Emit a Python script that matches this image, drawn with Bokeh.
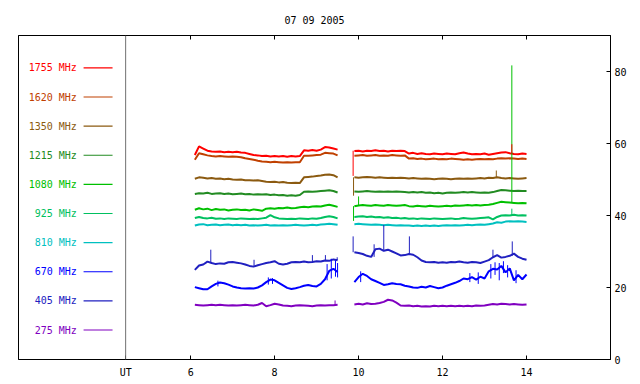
from bokeh.plotting import figure
from bokeh.models import Range1d, LinearAxis, FixedTicker, Span, ColumnDataSource
from bokeh.core.properties import value
from bokeh.embed import file_html
from bokeh.resources import INLINE

title_text = "07 09 2005"
freq_labels = ["1755 MHz", "1620 MHz", "1350 MHz", "1215 MHz", "1080 MHz",
               "925 MHz", "810 MHz", "670 MHz", "405 MHz", "275 MHz"]
colors = ["#ff0000", "#c04000", "#8b5a10", "#228b22", "#00c000",
          "#00c060", "#00c0c0", "#0000ff", "#2020c0", "#8000c0"]
x_ticks = [6, 8, 10, 12, 14]
y_ticks = [0, 20, 40, 60, 80]

t_seg1 = [6.1, 6.2, 6.3, 6.4, 6.5, 6.6, 6.7, 6.8, 6.9, 7.0, 7.1, 7.2, 7.3, 7.4, 7.5,
          7.6, 7.7, 7.8, 7.9, 8.0, 8.1, 8.2, 8.3, 8.4, 8.5, 8.6, 8.7, 8.8, 8.9, 9.0,
          9.1, 9.2, 9.3, 9.4, 9.5]
t_seg2 = [9.9, 10.0, 10.1, 10.2, 10.3, 10.4, 10.5, 10.6, 10.7, 10.8, 10.9, 11.0,
          11.1, 11.2, 11.3, 11.4, 11.5, 11.6, 11.7, 11.8, 11.9, 12.0, 12.1, 12.2,
          12.3, 12.4, 12.5, 12.6, 12.7, 12.8, 12.9, 13.0, 13.1, 13.2, 13.3, 13.4,
          13.5, 13.6, 13.7, 13.8, 13.9, 14.0]

f1755_seg1 = [56.8, 59.2, 58.6, 58.0, 57.8, 57.7, 57.8, 57.6, 57.7, 57.6, 57.7, 57.5,
              57.4, 57.1, 56.8, 56.7, 56.5, 56.6, 56.4, 56.5, 56.4, 56.5, 56.3, 56.5,
              56.4, 56.5, 58.1, 58.0, 58.2, 58.0, 58.3, 59.0, 58.9, 58.6, 58.3]
f1755_seg2 = [57.9, 58.0, 57.8, 58.0, 57.9, 58.1, 57.9, 58.0, 57.8, 58.0, 57.9, 58.0,
              57.9, 57.2, 57.4, 57.1, 57.3, 57.1, 57.0, 57.2, 57.1, 57.0, 57.2, 57.1,
              57.0, 57.3, 57.5, 57.2, 57.0, 57.1, 57.0, 57.2, 56.9, 57.1, 57.3, 57.5,
              57.6, 57.3, 57.1, 57.0, 57.2, 57.1]
f1620_seg1 = [55.5, 57.3, 57.0, 56.7, 56.5, 56.4, 56.5, 56.4, 56.3, 56.4, 56.3, 56.2,
              55.9, 55.7, 55.5, 55.2, 55.0, 54.9, 54.8, 54.9, 54.8, 54.7, 54.8, 54.7,
              54.8, 54.8, 56.6, 56.6, 56.7, 56.8, 56.9, 57.4, 57.3, 57.2, 56.7]
f1620_seg2 = [56.6, 56.7, 56.8, 56.6, 56.7, 56.8, 56.6, 56.7, 56.6, 56.8, 56.7, 56.6,
              56.7, 55.8, 55.9, 55.7, 55.8, 55.6, 55.7, 55.8, 55.6, 55.7, 55.6, 55.8,
              55.7, 55.6, 55.5, 55.6, 55.5, 55.6, 55.7, 55.6, 55.7, 55.6, 55.8, 55.9,
              55.8, 55.9, 55.8, 55.7, 55.8, 55.7]
f1350_seg1 = [50.2, 50.6, 50.5, 50.3, 50.4, 50.2, 50.3, 50.1, 50.2, 50.0, 49.9, 50.0,
              49.8, 49.8, 49.7, 49.8, 49.6, 49.4, 49.3, 49.4, 49.2, 49.3, 49.1, 49.0,
              49.1, 49.0, 50.6, 50.7, 50.8, 51.0, 51.1, 51.3, 51.4, 51.2, 50.6]
f1350_seg2 = [50.6, 50.5, 50.6, 50.7, 50.6, 50.5, 50.6, 50.5, 50.4, 50.5, 50.4, 50.5,
              50.4, 50.3, 50.4, 50.3, 50.2, 50.3, 50.2, 50.1, 50.2, 50.3, 50.2, 50.1,
              50.2, 50.3, 50.2, 50.3, 50.2, 50.3, 50.4, 50.3, 50.5, 50.4, 50.6, 50.4,
              50.3, 50.4, 50.3, 50.2, 50.3, 50.4]
f1215_seg1 = [46.0, 46.2, 46.1, 46.3, 46.0, 46.1, 46.2, 46.0, 46.1, 45.9, 46.0, 46.1,
              45.9, 46.0, 45.8, 45.9, 45.8, 45.9, 45.7, 45.8, 45.6, 45.7, 45.5, 45.6,
              45.5, 45.7, 46.6, 46.7, 46.6, 46.7, 46.8, 46.9, 47.0, 46.8, 46.4]
f1215_seg2 = [46.7, 46.6, 46.7, 46.8, 46.7, 46.6, 46.7, 46.6, 46.7, 46.6, 46.7, 46.6,
              46.5, 46.4, 46.5, 46.4, 46.5, 46.3, 46.4, 46.2, 46.3, 46.1, 46.3, 46.4,
              46.3, 46.4, 46.5, 46.4, 46.5, 46.4, 46.3, 46.4, 46.3, 46.5, 46.8, 47.1,
              47.0, 46.9, 46.8, 46.9, 46.8, 46.8]
f1080_seg1 = [41.6, 42.0, 41.7, 41.9, 41.5, 41.8, 41.6, 41.7, 41.4, 41.6, 41.7, 41.5,
              41.6, 41.4, 41.7, 41.5, 41.3, 41.9, 42.0, 41.9, 42.1, 42.0, 42.2, 42.0,
              42.1, 42.3, 42.4, 42.3, 42.5, 42.6, 42.5, 42.8, 43.0, 42.7, 42.4]
f1080_seg2 = [42.6, 42.8, 42.9, 42.8, 42.7, 42.9, 42.8, 42.7, 42.9, 42.8, 42.7, 42.8,
              42.9, 42.6, 42.5, 42.7, 42.6, 42.5, 42.7, 42.6, 42.5, 42.6, 42.7, 42.6,
              42.8, 42.7, 42.8, 42.9, 42.8, 42.9, 42.8, 42.9, 43.0, 43.2, 43.5, 43.8,
              43.7, 43.6, 43.5, 43.4, 43.5, 43.4]
f925_seg1 = [39.3, 39.6, 39.3, 39.2, 39.4, 39.1, 39.2, 39.0, 39.2, 39.1, 39.0, 39.2,
             39.1, 39.0, 39.1, 39.0, 39.2, 39.4, 40.1, 39.5, 39.2, 39.1, 39.0, 39.1,
             39.0, 39.2, 39.1, 39.0, 39.2, 39.1, 39.3, 39.6, 39.8, 39.6, 39.2]
f925_seg2 = [39.6, 39.7, 39.8, 39.6, 39.7, 39.5, 39.6, 39.4, 39.5, 39.3, 39.4, 39.2,
             39.3, 39.1, 39.2, 39.0, 39.2, 39.1, 39.0, 39.2, 39.1, 39.0, 39.1, 39.2,
             39.0, 39.1, 39.3, 39.2, 39.1, 39.2, 39.3, 39.4, 39.5, 38.9, 39.6, 40.0,
             40.1, 40.0, 40.2, 40.0, 40.1, 40.0]
f810_seg1 = [37.2, 37.5, 37.6, 37.3, 37.4, 37.5, 37.3, 37.4, 37.5, 37.3, 37.4, 37.3,
             37.4, 37.2, 37.3, 37.2, 37.3, 37.4, 37.2, 37.3, 37.2, 37.3, 37.2, 37.3,
             37.4, 37.3, 37.2, 37.3, 37.4, 37.3, 37.5, 37.6, 37.7, 37.6, 37.4]
f810_seg2 = [37.6, 37.7, 37.6, 37.5, 37.4, 37.5, 37.4, 37.3, 37.4, 37.3, 37.2, 37.3,
             37.2, 37.2, 37.1, 37.2, 37.1, 37.2, 37.1, 37.2, 37.1, 37.2, 37.3, 37.2,
             37.3, 37.2, 37.3, 37.4, 37.3, 37.4, 37.5, 37.4, 37.6, 37.8, 38.1, 38.0,
             38.3, 38.4, 38.3, 38.4, 38.3, 38.2]
f670_seg1 = [20.1, 19.8, 19.5, 19.5, 20.3, 21.0, 21.4, 21.2, 20.8, 20.3, 20.0, 19.8,
             19.7, 19.8, 19.7, 20.0, 20.6, 21.5, 22.2, 22.0, 21.3, 20.6, 19.9, 19.6,
             19.8, 20.1, 20.5, 20.7, 20.4, 20.3, 21.0, 22.3, 24.6, 25.2, 24.3]
f670_seg2 = [21.5, 22.9, 23.8, 23.2, 22.3, 21.8, 21.3, 20.7, 20.9, 21.2, 21.0, 20.9,
             20.5, 20.3, 20.0, 19.9, 20.2, 20.0, 20.4, 20.1, 19.8, 20.0, 20.5, 20.9,
             21.3, 21.8, 22.5, 22.3, 22.9, 22.2, 23.0, 22.5, 24.5, 25.2, 25.0, 26.0,
             24.2, 25.3, 22.0, 23.5, 22.3, 23.6]
f405_seg1 = [24.9, 26.1, 26.4, 27.2, 26.8, 26.5, 26.7, 26.6, 27.0, 27.1, 26.9, 26.7,
             26.4, 26.0, 25.8, 26.2, 26.5, 26.8, 27.0, 27.3, 26.6, 26.4, 26.6, 27.0,
             27.1, 27.0, 27.2, 27.0, 27.1, 27.3, 27.2, 27.5, 27.4, 27.8, 27.6]
f405_seg2 = [29.8, 29.6, 29.3, 28.8, 28.5, 30.6, 30.8, 30.2, 30.5, 30.0, 29.5, 28.9,
             29.0, 29.3, 29.1, 28.4, 27.5, 27.1, 27.0, 27.1, 26.9, 27.0, 26.9, 27.1,
             27.0, 27.2, 27.0, 26.9, 27.1, 27.0, 26.8, 27.2, 27.6, 28.4, 29.0, 28.3,
             28.5, 28.8, 29.4, 28.5, 28.0, 27.7]
f275_seg1 = [15.2, 15.1, 15.0, 15.1, 15.2, 15.1, 15.2, 15.1, 15.0, 15.1, 15.0, 15.1,
             15.2, 15.1, 15.0, 15.2, 15.7, 14.8, 15.1, 15.5, 15.3, 15.0, 14.9, 14.8,
             15.0, 15.1, 15.0, 14.9, 14.8, 15.0, 15.1, 15.0, 15.1, 15.1, 15.2]
f275_seg2 = [15.3, 15.5, 15.3, 15.6, 15.4, 15.5, 15.7, 16.0, 16.6, 16.4, 15.8, 15.0,
             14.9, 15.0, 14.8, 14.9, 14.7, 14.8, 14.7, 14.9, 14.8, 14.9, 14.8, 14.9,
             14.8, 14.9, 14.8, 14.9, 14.8, 15.0, 14.9, 15.0, 15.2, 15.4, 15.3, 15.5,
             15.4, 15.3, 15.4, 15.3, 15.2, 15.3]

# short bursts / spikes: series index, time, low, high
spike_series = [4, 4, 5, 2, 0, 0, 2, 4,
                8, 8, 8, 8, 8, 8, 8, 8, 8, 8, 8,
                7, 7, 7, 7, 7, 7, 7, 7, 7, 7, 7, 7, 7, 7, 7, 7,
                9]
spike_time = [13.65, 10.0, 13.65, 13.28, 13.65, 9.87, 9.88, 9.88,
              6.48, 7.51, 8.9, 9.21, 9.49, 9.87, 10.37, 10.6, 11.21, 13.66, 13.2,
              6.65, 7.85, 7.95, 9.25, 9.35, 9.45, 9.5, 10.05, 12.65, 12.85,
              13.15, 13.25, 13.35, 13.45, 13.55, 13.75,
              9.44]
spike_low = [43.6, 42.8, 40.0, 50.4, 57.3, 51.0, 45.5, 38.5,
             26.8, 25.8, 27.1, 27.5, 27.6, 29.8, 28.5, 30.2, 29.3, 28.8, 28.4,
             20.3, 20.8, 21.0, 22.0, 22.5, 23.0, 22.8, 21.5, 21.5, 21.0,
             22.5, 23.5, 22.0, 24.0, 22.8, 21.2,
             15.1]
spike_high = [81.7, 45.3, 41.9, 52.5, 59.8, 58.0, 50.6, 42.6,
              30.5, 27.7, 29.0, 29.0, 28.4, 34.2, 32.0, 37.4, 34.2, 32.8, 30.5,
              21.9, 22.8, 22.6, 26.5, 28.0, 27.5, 26.8, 24.5, 24.0, 24.2,
              26.5, 27.0, 26.8, 27.3, 26.2, 24.8,
              16.4]

seg1_all = [f1755_seg1, f1620_seg1, f1350_seg1, f1215_seg1, f1080_seg1,
            f925_seg1, f810_seg1, f670_seg1, f405_seg1, f275_seg1]
seg2_all = [f1755_seg2, f1620_seg2, f1350_seg2, f1215_seg2, f1080_seg2,
            f925_seg2, f810_seg2, f670_seg2, f405_seg2, f275_seg2]

FONT = "DejaVu Sans Mono"
FS = "10px"
UT_X = 4.452

p = figure(width=640, height=384, x_range=Range1d(1.9, 16.0), y_range=Range1d(0, 90),
           y_axis_location="right", output_backend="svg", toolbar_location=None,
           min_border_left=18, min_border_right=30, min_border_top=35,
           min_border_bottom=25)
p.grid.visible = False
p.outline_line_color = "black"
p.outline_line_alpha = 1.0
p.background_fill_color = "white"
p.border_fill_color = "white"

p.title.text = title_text
p.title.align = "center"
p.title.text_font = FONT
p.title.text_font_size = FS
p.title.text_font_style = "normal"
p.title.text_color = "black"
p.title.standoff = 20

# bottom axis
xa = p.xaxis[0]
xa.ticker = FixedTicker(ticks=[UT_X] + x_ticks)
xa.major_label_overrides = {UT_X: "UT"}
xa.major_tick_in = 4
xa.major_tick_out = 0
xa.minor_tick_line_color = None
xa.axis_line_color = "black"
xa.major_tick_line_color = "black"
xa.major_label_text_font = FONT
xa.major_label_text_font_size = FS
xa.major_label_text_color = "black"
xa.major_label_standoff = 7

# top axis (ticks only)
ta = LinearAxis(ticker=FixedTicker(ticks=x_ticks), major_tick_in=4, major_tick_out=0,
                minor_tick_line_color=None,
                major_label_overrides={t: "" for t in x_ticks},
                major_label_standoff=4, axis_line_color="black")
p.add_layout(ta, "above")

# right axis
ya = p.yaxis[0]
ya.ticker = FixedTicker(ticks=y_ticks)
ya.major_tick_in = 4
ya.major_tick_out = 0
ya.minor_tick_line_color = None
ya.axis_line_color = "black"
ya.major_label_text_font = FONT
ya.major_label_text_font_size = FS
ya.major_label_text_color = "black"
ya.major_label_standoff = 4

p.add_layout(Span(location=UT_X, dimension="height", line_color="#707070", line_width=1))

for i in range(len(freq_labels)):
    p.line(t_seg1, seg1_all[i], line_color=colors[i], line_width=2)
    p.line(t_seg2, seg2_all[i], line_color=colors[i], line_width=2)

spk = ColumnDataSource(dict(t=spike_time, lo=spike_low, hi=spike_high,
                            c=[colors[k] for k in spike_series]))
p.segment(x0="t", y0="lo", x1="t", y1="hi", line_color="c", line_width=1, source=spk)

# legend on the left
leg_y = [81.0 - 8.09 * i for i in range(len(freq_labels))]
leg = ColumnDataSource(dict(y=leg_y, label=freq_labels, c=colors,
                            x_text=[3.29] * len(freq_labels),
                            x0=[3.45] * len(freq_labels), x1=[4.14] * len(freq_labels)))
p.text(x="x_text", y="y", text="label", text_color="c", text_font=value(FONT),
       text_font_size=FS, text_align="right", text_baseline="middle", source=leg)
p.segment(x0="x0", y0="y", x1="x1", y1="y", line_color="c", line_width=1.2, source=leg)

open("out.html", "w").write(file_html(p, INLINE))
